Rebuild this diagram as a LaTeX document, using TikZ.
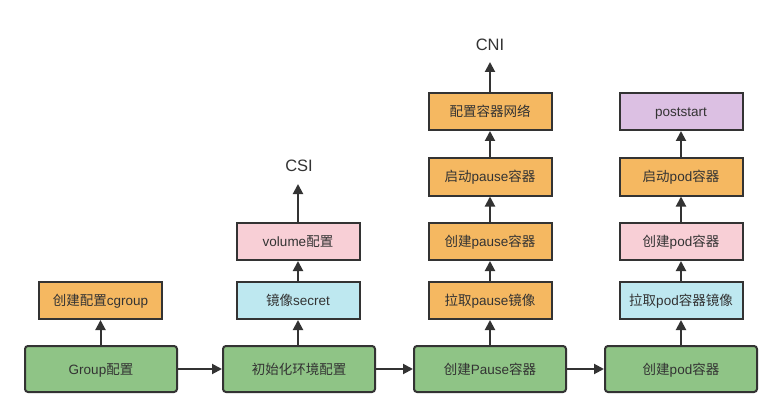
\documentclass[tikz,border=0pt]{standalone}
\usepackage{fontspec}
\setmainfont{Liberation Sans}
\newfontfamily\cjk{Noto Sans CJK SC}
\usetikzlibrary{arrows.meta}
\definecolor{cgreen}{HTML}{8FC486}
\definecolor{corange}{HTML}{F5B861}
\definecolor{cpink}{HTML}{F8CFD6}
\definecolor{ccyan}{HTML}{BEE8F0}
\definecolor{cpurple}{HTML}{DCC0E3}
\definecolor{cline}{HTML}{333333}
\definecolor{ctext}{HTML}{333333}
\begin{document}
\begin{tikzpicture}[x=1pt,y=-1pt,
  base/.style={draw=cline,line width=2pt,text=ctext,font=\fontsize{13.5}{16}\selectfont,inner sep=0pt,anchor=center,text height=11.5pt,text depth=1.5pt},
  gbox/.style={base,fill=cgreen,minimum width=152pt,minimum height=46pt,rounded corners=3pt},
  sbox/.style={base,minimum width=123pt,minimum height=37pt},
  lbl/.style={text=ctext,font=\fontsize{16.5}{19}\selectfont,inner sep=0pt},
  arr/.style={draw=cline,line width=2pt,-{Triangle[length=10pt,width=10pt]}}]
\useasboundingbox (0,0) rectangle (782,417);
% main row
\node[gbox] (g1) at (101,369) {Group{\cjk 配置}};
\node[gbox] (g2) at (299,369) {\cjk 初始化环境配置};
\node[gbox] (g3) at (490,369) {{\cjk 创建}Pause{\cjk 容器}};
\node[gbox] (g4) at (681,369) {{\cjk 创建}pod{\cjk 容器}};
\draw[arr] (g1) -- (g2);
\draw[arr] (g2) -- (g3);
\draw[arr] (g3) -- (g4);
% column 1
\node[sbox,fill=corange] (a1) at (100.5,300.5) {{\cjk 创建配置}cgroup};
\draw[arr] (a1.south |- g1.north) -- (a1);
% column 2
\node[sbox,fill=ccyan] (b1) at (298,300.5) {{\cjk 镜像}secret};
\node[sbox,fill=cpink] (b2) at (298,241.5) {volume{\cjk 配置}};
\node[lbl] (csi) at (299,166) {CSI};
\coordinate (csiend) at (298,184);
\draw[arr] (b1.south |- g2.north) -- (b1);
\draw[arr] (b1) -- (b2);
\draw[arr] (b2) -- (csiend);
% column 3
\node[sbox,fill=corange] (c1) at (490,300.5) {{\cjk 拉取}pause{\cjk 镜像}};
\node[sbox,fill=corange] (c2) at (490,241.5) {{\cjk 创建}pause{\cjk 容器}};
\node[sbox,fill=corange] (c3) at (490,177) {{\cjk 启动}pause{\cjk 容器}};
\node[sbox,fill=corange] (c4) at (490,111.5) {\cjk 配置容器网络};
\node[lbl] (cni) at (490,45) {CNI};
\coordinate (cniend) at (490,62);
\draw[arr] (g3) -- (c1);
\draw[arr] (c1) -- (c2);
\draw[arr] (c2) -- (c3);
\draw[arr] (c3) -- (c4);
\draw[arr] (c4) -- (cniend);
% column 4
\node[sbox,fill=ccyan] (d1) at (681,300.5) {{\cjk 拉取}pod{\cjk 容器镜像}};
\node[sbox,fill=cpink] (d2) at (681,241.5) {{\cjk 创建}pod{\cjk 容器}};
\node[sbox,fill=corange] (d3) at (681,177) {{\cjk 启动}pod{\cjk 容器}};
\node[sbox,fill=cpurple] (d4) at (681,111.5) {poststart};
\draw[arr] (g4) -- (d1);
\draw[arr] (d1) -- (d2);
\draw[arr] (d2) -- (d3);
\draw[arr] (d3) -- (d4);
\end{tikzpicture}
\end{document}
